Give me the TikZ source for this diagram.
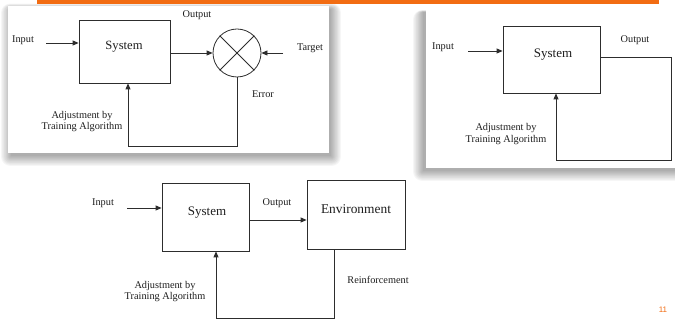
\documentclass[tikz,border=0pt]{standalone}
\usepackage{fontspec}
\setmainfont{Liberation Serif}
\newfontfamily\slidesans{Liberation Sans}
\usetikzlibrary{arrows.meta}
\definecolor{slideorange}{RGB}{242,108,18}
\definecolor{linegray}{RGB}{45,45,45}
\definecolor{txtgray}{RGB}{30,30,30}
\tikzset{
  box/.style={draw=linegray,line width=0.8pt,fill=white,inner sep=0pt},
  lbl/.style={text=txtgray,font=\fontsize{10.3}{11.5}\selectfont,inner sep=0pt,align=center},
  big/.style={text=txtgray,font=\fontsize{13}{15}\selectfont,inner sep=0pt},
  conn/.style={draw=linegray,line width=0.8pt},
  arr/.style={conn,-{Triangle[length=6pt,width=5pt]}},
  shadowlayer/.style={fill=black,opacity=0.035},
}
\begin{document}
\begin{tikzpicture}[x=1pt,y=-1pt]
\useasboundingbox (0,0) rectangle (675,320);
\fill[white] (0,0) rectangle (675,320);
% ---- card shadows (soft) ----
\foreach \i in {0,...,9}{
  \fill[shadowlayer,rounded corners=\i pt] (11-\i*1.1,9-\i*0.6) rectangle (331+\i*1.1,156+\i*1.1);
  \fill[shadowlayer,rounded corners=\i pt] (423-\i*1.1,12-\i*0.2) rectangle (690+\i*1.1,171+\i*1.1);
}
\fill[white] (8,6) rectangle (329,153);
\fill[white] (426,10) rectangle (680,168);
% orange header bar
\fill[slideorange] (37,0) rectangle (659,4.5);

% ================= Panel 1 =================
\node[box,minimum width=91pt,minimum height=63pt] (sys1) at (124.5,51.5) {};
\node[big,font=\fontsize{12.6}{14}\selectfont] (sys1t) at (124,47) {System};
\node[draw=linegray,line width=0.8pt,circle,minimum size=48pt,inner sep=0pt] (c1) at (237,53) {};
\draw[conn] (c1.45) -- (c1.225);
\draw[conn] (c1.135) -- (c1.315);
\coordinate (in1) at (46,43);
\coordinate (tg1) at (283,53);
\coordinate (fb1) at (128,146);
\draw[arr] (in1) -- (sys1.west |- in1);
\draw[arr] (sys1.east |- c1.west) -- (c1.west);
\draw[arr] (tg1) -- (c1.east);
\draw[arr] (c1.south) |- (fb1) -- (fb1 |- sys1.south);
\node[lbl] (inp1) at (23,40) {Input};
\node[lbl] (out1) at (197,15) {Output};
\node[lbl] (tgt1) at (310,48) {Target};
\node[lbl] (err1) at (263,94) {Error};
\node[lbl] (adj1) at (82,121.5) {Adjustment by\\Training Algorithm};

% ================= Panel 2 =================
\node[box,minimum width=97pt,minimum height=67pt] (sys2) at (551.5,59.5) {};
\node[big] (sys2t) at (553,55) {System};
\coordinate (in2) at (468,51);
\coordinate (o2) at (671,57);
\coordinate (fb2) at (556,160);
\draw[arr] (in2) -- (sys2.west |- in2);
\draw[arr] (sys2.east |- o2) -- (o2) |- (fb2) -- (fb2 |- sys2.south);
\node[lbl] (inp2) at (443,47) {Input};
\node[lbl] (out2) at (635,40) {Output};
\node[lbl] (adj2) at (506,134) {Adjustment by\\Training Algorithm};

% ================= Panel 3 =================
\node[box,minimum width=87pt,minimum height=68pt] (sys3) at (205.5,217) {};
\node[big] (sys3t) at (207,213) {System};
\node[box,minimum width=98pt,minimum height=69pt] (env) at (356,214.5) {};
\node[big,font=\fontsize{13.4}{15}\selectfont] (envt) at (356,209) {Environment};
\coordinate (in3) at (127,208);
\coordinate (o3) at (249,220);
\coordinate (fb3) at (216,318);
\draw[arr] (in3) -- (sys3.west |- in3);
\draw[arr] (o3) -- (env.west |- o3);
\draw[arr] (env.south -| 334,0) |- (fb3) -- (fb3 |- sys3.south);
\node[lbl] (inp3) at (103,203) {Input};
\node[lbl] (out3) at (277,203) {Output};
\node[lbl] (rein) at (378,280) {Reinforcement};
\node[lbl] (adj3) at (165,291.5) {Adjustment by\\Training Algorithm};

% page number
\node[text=slideorange,font=\slidesans\fontsize{8}{9}\selectfont,inner sep=0pt] (pg) at (663,310) {11};
\end{tikzpicture}
\end{document}
